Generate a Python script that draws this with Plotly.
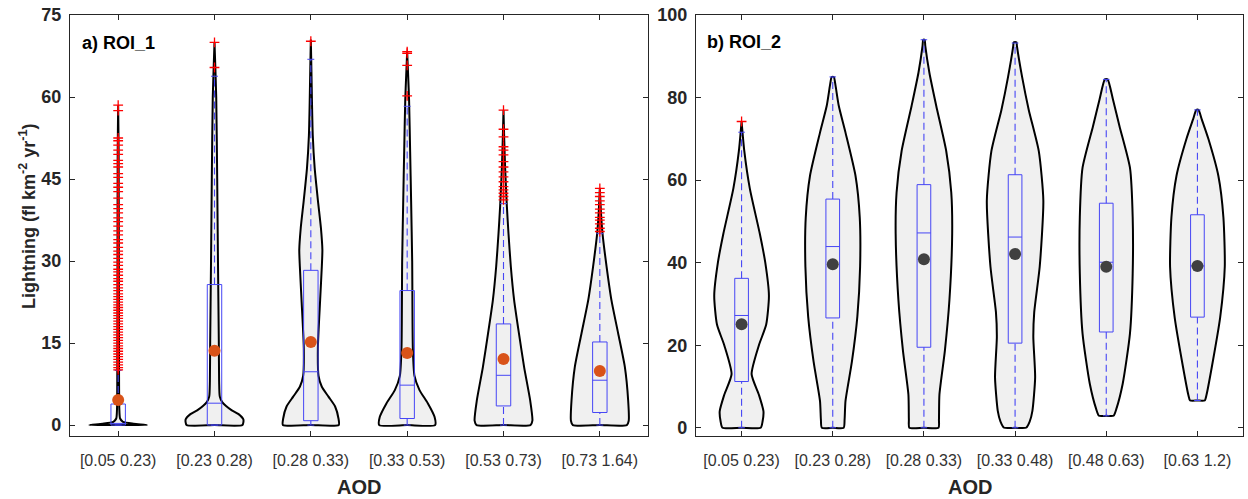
import plotly.graph_objects as go

# ---------------- data ----------------
labels_roi1 = ["[0.05 0.23)", "[0.23 0.28)", "[0.28 0.33)", "[0.33 0.53)", "[0.53 0.73)", "[0.73 1.64)"]
labels_roi2 = ["[0.05 0.23)", "[0.23 0.28)", "[0.28 0.33)", "[0.33 0.48)", "[0.48 0.63)", "[0.63 1.2)"]

# violin outlines (density half-widths, in category units) at lightning levels
roi1_violin_y = [
    [0, 0.25, 0.6, 1.2, 3, 10, 30, 50, 58.5],
    [0, 1, 2, 2.7, 3.5, 4.2, 5.2, 8, 15, 30, 45, 60, 70],
    [0, 1.2, 3.4, 5.2, 7, 9, 14, 23, 29, 32, 36, 41, 47, 53, 59, 65, 70.5],
    [0, 1.5, 4, 6.4, 9, 14, 30, 41, 50, 59.4, 64, 68.3],
    [0, 0.8, 4.5, 10.6, 16.8, 22.9, 29, 35, 40, 47, 52, 57.6],
    [0, 0.8, 4.5, 10.6, 16.8, 22.9, 29, 35, 38.8, 43.3],
]
roi1_violin_w = [
    [0.30, 0.16, 0.05, 0.02, 0.012, 0.009, 0.007, 0.005, 0.0],
    [0.29, 0.30, 0.25, 0.18, 0.12, 0.08, 0.055, 0.048, 0.045, 0.036, 0.028, 0.018, 0.0],
    [0.29, 0.287, 0.252, 0.183, 0.114, 0.08, 0.073, 0.097, 0.114, 0.12, 0.105, 0.074, 0.04, 0.02, 0.012, 0.006, 0.0],
    [0.29, 0.284, 0.214, 0.128, 0.076, 0.059, 0.052, 0.041, 0.031, 0.02, 0.01, 0.0],
    [0.28, 0.30, 0.277, 0.214, 0.16, 0.11, 0.076, 0.052, 0.035, 0.017, 0.008, 0.0],
    [0.28, 0.30, 0.294, 0.26, 0.19, 0.12, 0.07, 0.028, 0.012, 0.0],
]
roi2_violin_y = [
    [0, 1.5, 4, 8, 13, 20, 25, 32, 40, 47, 58, 67, 74.2],
    [0, 2, 6.5, 16, 27, 39, 51, 61, 71.5, 78, 83, 85],
    [0, 2, 8, 18.7, 31, 47, 57, 67, 78, 86, 92.5, 94],
    [0, 1.5, 4.1, 12.2, 22, 28, 39, 55, 67, 77, 85, 92.5, 93.4],
    [2.9, 4.5, 10.6, 22.8, 37.4, 51, 63, 73, 79.6, 84.4],
    [6.6, 8, 14.6, 26.8, 39, 51, 61, 70, 74.7, 77],
]
roi2_violin_w = [
    [0.21, 0.23, 0.24, 0.19, 0.11, 0.19, 0.27, 0.30, 0.26, 0.20, 0.09, 0.03, 0.0],
    [0.12, 0.13, 0.14, 0.21, 0.27, 0.30, 0.296, 0.25, 0.14, 0.066, 0.03, 0.012],
    [0.16, 0.165, 0.17, 0.23, 0.28, 0.31, 0.30, 0.245, 0.135, 0.06, 0.015, 0.008],
    [0.12, 0.16, 0.19, 0.22, 0.20, 0.21, 0.27, 0.31, 0.26, 0.15, 0.077, 0.02, 0.015],
    [0.08, 0.11, 0.18, 0.26, 0.29, 0.29, 0.26, 0.146, 0.073, 0.015],
    [0.08, 0.10, 0.157, 0.25, 0.30, 0.285, 0.23, 0.12, 0.048, 0.012],
]

# box-plot statistics
roi1_q1 = [0, 0, 0.8, 1.2, 3.5, 2.3]
roi1_median = [0.3, 4.0, 9.75, 7.3, 9.1, 8.2]
roi1_q3 = [3.85, 25.7, 28.3, 24.6, 18.5, 15.2]
roi1_low = [0, 0, 0, 0, 0, 0]
roi1_high = [10, 63.8, 66.9, 58.3, 40.5, 35]
roi1_mean = [4.6, 13.6, 15.2, 13.2, 12.1, 9.9]

roi2_q1 = [11.2, 26.6, 19.5, 20.5, 23.2, 26.8]
roi2_median = [27.2, 43.9, 47.2, 46.2, 40.1, 39.2]
roi2_q3 = [36.2, 55.4, 58.9, 61.3, 54.4, 51.6]
roi2_low = [0, 0, 0, 0, 2.9, 6.6]
roi2_high = [71.6, 85, 94, 93.2, 84.4, 77]
roi2_mean = [25.1, 39.6, 40.8, 42.1, 39.0, 39.2]

# outliers
roi1_outliers = [
    [58.5, 57.5, 52.5, 52, 51.2, 50.3, 49.5, 48.4, 47.8, 47.2, 46, 45.3, 44.2, 43.5, 42.7,
     41.5, 40.3, 39.6, 38.8, 37.9, 37.2, 36.4, 35.5, 34.8, 33.9, 33.3, 32.5, 31.8, 31.2,
     30.5, 29.8, 29.2, 28.5, 28, 27.4, 26.8, 26.3, 25.7, 25.1, 24.6, 24, 23.5, 23, 22.5,
     22, 21.5, 21, 20.5, 20, 19.5, 19, 18.5, 18, 17.5, 17, 16.5, 16, 15.5, 15, 14.5, 14,
     13.5, 13, 12.5, 12, 11.5, 11, 10.5, 10.1],
    [70.0, 65.4],
    [70.2],
    [68.3, 68.0, 65.8, 60.2],
    [57.6, 54.1, 52.7, 50.9, 50.3, 49.4, 48.2, 47.2, 46.3, 45.4, 44.5, 43.6, 43.0, 42.4, 41.8, 41.2],
    [43.3, 42.5, 41.8, 41.0, 40.3, 39.5, 38.8, 38.0, 37.5, 36.8, 36.0, 35.4],
]
roi2_outliers = [[74.2], [], [], [], [], []]

# ---------------- styling ----------------
FONT = "Liberation Sans, Arial, Helvetica, sans-serif"
VIOLIN_FILL = "#f0f0f0"
BOX_COLOR = "#4646f5"
BOX_HW = 0.075
CAP_HW = 0.036

fig = go.Figure()


def add_panel(xa, ya, vy, vw, q1, med, q3, lo, hi, mean, outl, mean_color):
    n = len(vy)
    for i in range(n):
        c = i + 1
        ys, ws = vy[i], vw[i]
        x = [c] + [c + w for w in ws] + [c - w for w in reversed(ws)] + [c]
        y = [ys[0]] + list(ys) + list(reversed(ys)) + [ys[0]]
        fig.add_trace(go.Scatter(x=x, y=y, xaxis=xa, yaxis=ya, mode="lines",
                                 fill="toself", fillcolor=VIOLIN_FILL,
                                 line=dict(color="black", width=2, shape="spline", smoothing=0.6),
                                 hoverinfo="skip", showlegend=False))
    # boxes (solid parts)
    bx, by = [], []
    for i in range(n):
        c = i + 1
        bx += [c - BOX_HW, c + BOX_HW, c + BOX_HW, c - BOX_HW, c - BOX_HW, None,
               c - BOX_HW, c + BOX_HW, None,
               c - CAP_HW, c + CAP_HW, None,
               c - CAP_HW, c + CAP_HW, None]
        by += [q1[i], q1[i], q3[i], q3[i], q1[i], None,
               med[i], med[i], None,
               hi[i], hi[i], None,
               lo[i], lo[i], None]
    fig.add_trace(go.Scatter(x=bx, y=by, xaxis=xa, yaxis=ya, mode="lines",
                             line=dict(color=BOX_COLOR, width=1), hoverinfo="skip",
                             showlegend=False))
    # whiskers (dashed)
    wx, wy = [], []
    for i in range(n):
        c = i + 1
        wx += [c, c, None, c, c, None]
        wy += [q3[i], hi[i], None, lo[i], q1[i], None]
    fig.add_trace(go.Scatter(x=wx, y=wy, xaxis=xa, yaxis=ya, mode="lines",
                             line=dict(color=BOX_COLOR, width=1.1, dash="7px,4px"),
                             hoverinfo="skip", showlegend=False))
    # outliers
    ox, oy = [], []
    for i in range(n):
        ox += [i + 1] * len(outl[i])
        oy += outl[i]
    if oy:
        fig.add_trace(go.Scatter(x=ox, y=oy, xaxis=xa, yaxis=ya, mode="markers",
                                 marker=dict(symbol="cross-thin", size=7,
                                             line=dict(color="red", width=1.3)),
                                 showlegend=False))
    # means
    fig.add_trace(go.Scatter(x=list(range(1, n + 1)), y=mean, xaxis=xa, yaxis=ya,
                             mode="markers", marker=dict(color=mean_color, size=12),
                             showlegend=False))


add_panel("x", "y", roi1_violin_y, roi1_violin_w, roi1_q1, roi1_median, roi1_q3,
          roi1_low, roi1_high, roi1_mean, roi1_outliers, "#D95319")
add_panel("x2", "y2", roi2_violin_y, roi2_violin_w, roi2_q1, roi2_median, roi2_q3,
          roi2_low, roi2_high, roi2_mean, roi2_outliers, "#404040")

# the page body margin is removed (post_script below), so the figure fills the window
W, H = 1248, 499


def px(xr):
    return xr / W


def py(yr):
    return 1 - yr / H


x1d = [px(70), px(648)]
x2d = [px(696), px(1243)]
yd = [py(436), py(15)]

axis_common = dict(showline=True, linecolor="#262626", linewidth=1.3, mirror="ticks",
                   ticks="inside", ticklen=5, tickwidth=1.2, tickcolor="#262626",
                   showgrid=False, zeroline=False, automargin=False,
                   ticklabeloverflow="allow")

xaxis_style = dict(axis_common, tickfont=dict(family=FONT, size=16, color="#333333"),
                   ticklabelstandoff=10)
yaxis_style = dict(axis_common, tickfont=dict(family=FONT, size=18, color="#262626",
                                              weight="bold"),
                   ticklabelstandoff=4)

fig.update_layout(
    template="none",
    width=W, height=H, margin=dict(l=0, r=0, t=0, b=0, pad=0),
    paper_bgcolor="white", plot_bgcolor="white", showlegend=False,
    xaxis=dict(xaxis_style, domain=x1d, range=[0.5, 6.5], tickvals=[1, 2, 3, 4, 5, 6],
               ticktext=labels_roi1),
    yaxis=dict(yaxis_style, domain=yd, range=[-2, 75], tickvals=[0, 15, 30, 45, 60, 75]),
    xaxis2=dict(xaxis_style, domain=x2d, range=[0.5, 6.5], tickvals=[1, 2, 3, 4, 5, 6],
                ticktext=labels_roi2, anchor="y2"),
    yaxis2=dict(yaxis_style, domain=yd, range=[-2, 100], tickvals=[0, 20, 40, 60, 80, 100],
                anchor="x2"),
    annotations=[
        dict(text="<b>a) ROI_1</b>", x=px(80), y=py(43), xref="paper", yref="paper",
             xanchor="left", yanchor="middle", showarrow=False,
             font=dict(family=FONT, size=18, color="black")),
        dict(text="<b>b) ROI_2</b>", x=px(705), y=py(42), xref="paper", yref="paper",
             xanchor="left", yanchor="middle", showarrow=False,
             font=dict(family=FONT, size=18, color="black")),
        dict(text="<b>AOD</b>", x=px(359), y=py(487), xref="paper", yref="paper",
             xanchor="center", yanchor="middle", showarrow=False,
             font=dict(family=FONT, size=20, color="#262626")),
        dict(text="<b>AOD</b>", x=px(970), y=py(487), xref="paper", yref="paper",
             xanchor="center", yanchor="middle", showarrow=False,
             font=dict(family=FONT, size=20, color="#262626")),
        dict(text="<b>Lightning (fl km<sup>-2</sup> yr<sup>-1</sup>)</b>", x=px(27),
             y=py(217), xref="paper", yref="paper", xanchor="center",
             yanchor="middle", textangle=-90, showarrow=False,
             font=dict(family=FONT, size=18, color="#262626")),
    ],
)

fig.write_html("out.html",
               config={"displayModeBar": False},
               post_script="document.body.style.margin='0px';"
                           "document.body.style.overflow='hidden';")
